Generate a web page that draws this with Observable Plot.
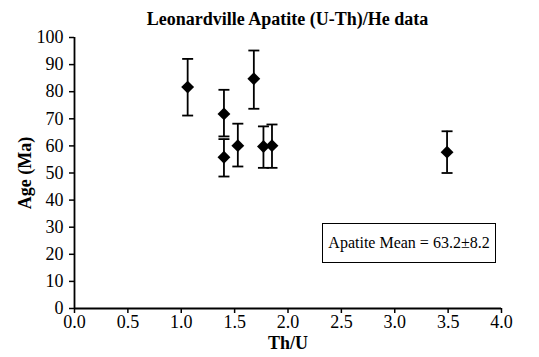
<!DOCTYPE html>
<html>
<head>
<meta charset="utf-8">
<script src="https://cdn.jsdelivr.net/npm/d3@7"></script>
<script src="https://cdn.jsdelivr.net/npm/@observablehq/plot@0.6"></script>
<style>
  html, body { margin: 0; padding: 0; background: white; }
  #wrap { position: relative; width: 539px; height: 357px; background: white; font-family: "Liberation Serif", "Times New Roman", serif; }
  #title { height: 30px; box-sizing: border-box; padding: 4px 38px 0 74px; line-height: 30px; text-align: center; font-weight: bold; font-size: 18px; color: black; white-space: nowrap; }
  #mean { position: absolute; left: 322px; top: 223px; width: 174px; height: 40px; box-sizing: border-box; border: 1.5px solid black; background: white; font-size: 16px; line-height: 37px; text-align: center; color: black; white-space: nowrap; }
</style>
</head>
<body>
<div id="wrap">
  <div id="title">Leonardville Apatite (U-Th)/He data</div>
  <div id="chart"></div>
  <div id="mean">Apatite Mean = 63.2±8.2</div>
</div>
<script>
// Data
const thu     = [1.06, 1.40, 1.40, 1.53, 1.68, 1.77, 1.85, 3.49];
const age     = [81.7, 71.8, 55.8, 60.1, 84.8, 59.8, 60.1, 57.7];
const ageLow  = [71.2, 63.5, 48.7, 52.4, 73.7, 51.9, 51.9, 50.0];
const ageHigh = [92.1, 80.7, 62.5, 68.2, 95.2, 67.2, 67.9, 65.4];
const xTicks  = [0, 0.5, 1.0, 1.5, 2.0, 2.5, 3.0, 3.5, 4.0];
const yTicks  = [0, 10, 20, 30, 40, 50, 60, 70, 80, 90, 100];
const xTitle  = "Th/U";
const yTitle  = "Age (Ma)";

const data = thu.map((x, i) => ({x, y: age[i], lo: ageLow[i], hi: ageHigh[i]}));

const cap = {draw(context) { context.moveTo(-5.5, 0); context.lineTo(5.5, 0); }};

const chart = Plot.plot({
  width: 539,
  height: 327,
  marginLeft: 74,
  marginRight: 38,
  marginTop: 7,
  marginBottom: 49,
  style: {fontFamily: "'Liberation Serif', 'Times New Roman', serif", fontSize: "18px", background: "white", color: "black", overflow: "visible"},
  x: {domain: [0, 4]},
  y: {domain: [0, 100]},
  marks: [
    Plot.axisX({ticks: xTicks, tickSize: 5, tickPadding: 2, tickFormat: d3.format(".1f"), label: null, strokeWidth: 1.5}),
    Plot.axisY({ticks: yTicks, tickSize: 5, tickPadding: 6, tickFormat: d => String(d), label: null, strokeWidth: 1.5}),
    Plot.ruleY([0], {stroke: "black", strokeWidth: 1.8}),
    Plot.ruleX([0], {stroke: "black", strokeWidth: 1.8}),
    Plot.ruleX(data, {x: "x", y1: "lo", y2: "hi", stroke: "black", strokeWidth: 1.8}),
    Plot.dot(data, {x: "x", y: "lo", symbol: cap, r: 5, fill: "none", stroke: "black", strokeWidth: 1.8}),
    Plot.dot(data, {x: "x", y: "hi", symbol: cap, r: 5, fill: "none", stroke: "black", strokeWidth: 1.8}),
    Plot.dot(data, {x: "x", y: "y", symbol: "diamond2", r: 5.8, fill: "black", stroke: "none"}),
    Plot.text([yTitle], {frameAnchor: "left", dx: -49, rotate: -90, textAnchor: "middle", fontWeight: "bold", fontSize: 18, fill: "black"}),
    Plot.text([xTitle], {frameAnchor: "bottom", dy: 40, textAnchor: "middle", fontWeight: "bold", fontSize: 18, fill: "black"})
  ]
});
document.getElementById("chart").appendChild(chart);
</script>
</body>
</html>
